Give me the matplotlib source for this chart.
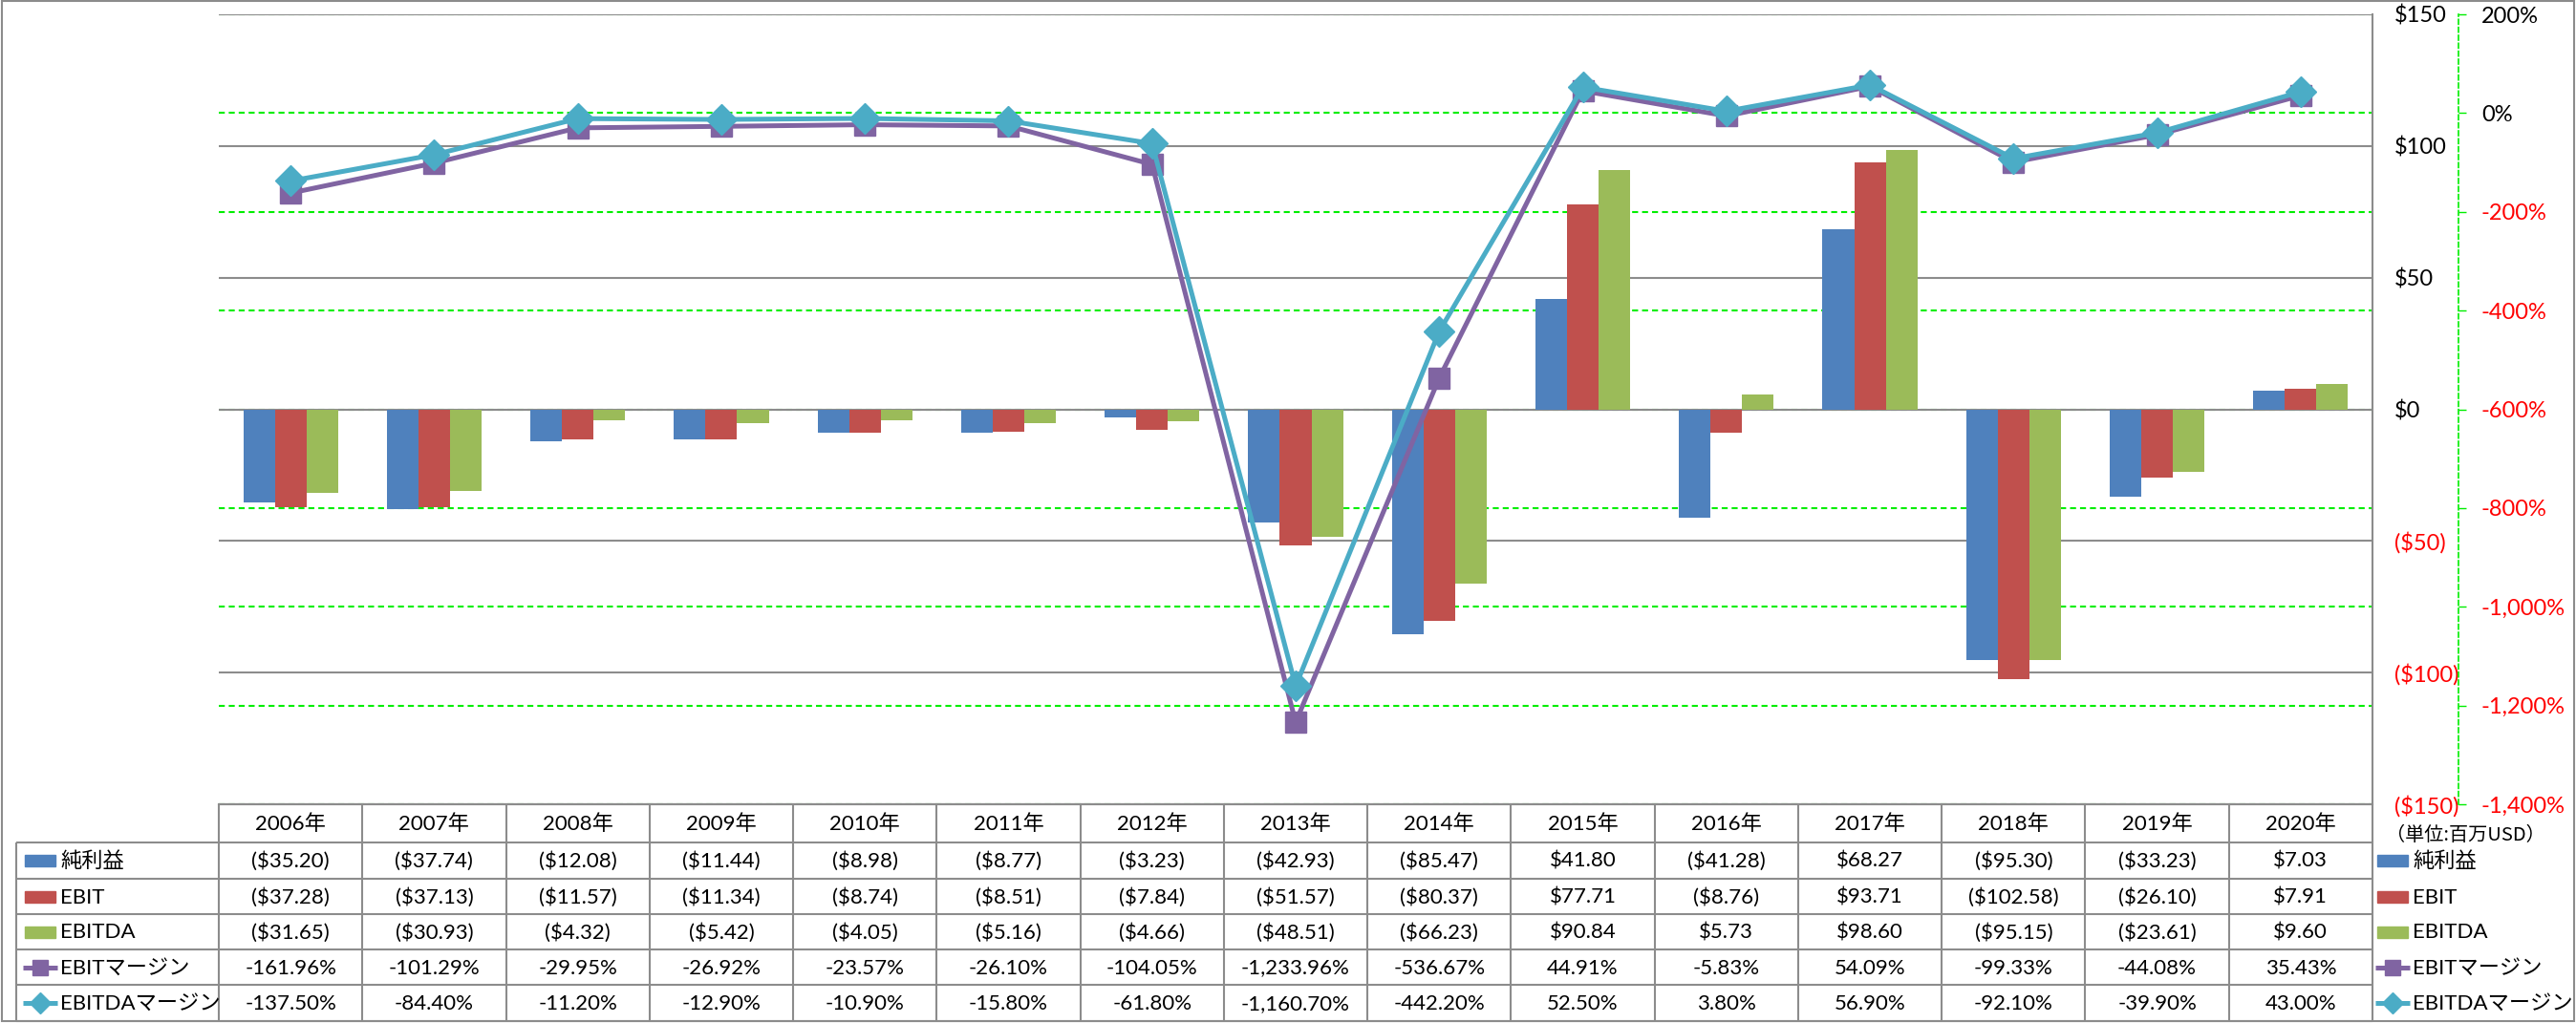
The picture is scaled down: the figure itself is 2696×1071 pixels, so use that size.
import matplotlib
matplotlib.use('Agg')
import matplotlib.pyplot as plt
from matplotlib.patches import Rectangle
import numpy as np

plt.rcParams['font.family'] = ['Lato', 'Noto Sans CJK JP']

years = ['2006年', '2007年', '2008年', '2009年', '2010年', '2011年', '2012年', '2013年',
         '2014年', '2015年', '2016年', '2017年', '2018年', '2019年', '2020年']
net_income = [-35.20, -37.74, -12.08, -11.44, -8.98, -8.77, -3.23, -42.93,
              -85.47, 41.80, -41.28, 68.27, -95.30, -33.23, 7.03]
ebit = [-37.28, -37.13, -11.57, -11.34, -8.74, -8.51, -7.84, -51.57,
        -80.37, 77.71, -8.76, 93.71, -102.58, -26.10, 7.91]
ebitda = [-31.65, -30.93, -4.32, -5.42, -4.05, -5.16, -4.66, -48.51,
          -66.23, 90.84, 5.73, 98.60, -95.15, -23.61, 9.60]
ebit_margin = [-161.96, -101.29, -29.95, -26.92, -23.57, -26.10, -104.05, -1233.96,
               -536.67, 44.91, -5.83, 54.09, -99.33, -44.08, 35.43]
ebitda_margin = [-137.50, -84.40, -11.20, -12.90, -10.90, -15.80, -61.80, -1160.70,
                 -442.20, 52.50, 3.80, 56.90, -92.10, -39.90, 43.00]
series_names = ['純利益', 'EBIT', 'EBITDA', 'EBITマージン', 'EBITDAマージン']
unit_note = '（単位:百万USD）'

money_ticks = [-150, -100, -50, 0, 50, 100, 150]
pct_ticks = [-1400, -1200, -1000, -800, -600, -400, -200, 0, 200]

c_blue, c_red, c_green = '#4F81BD', '#C0504D', '#9BBB59'
c_purple, c_cyan = '#8064A2', '#4BACC6'
grid_gray = '#8c8c8c'
green = '#00EE00'
fs = 16
fs_tick = 17


def fmt_money(v):
    return f'(${abs(v):.2f})' if v < 0 else f'${v:.2f}'


def fmt_money_tick(v):
    return f'(${abs(v):,})' if v < 0 else f'${v:,}'


W, H = 2696, 1071
fig = plt.figure(figsize=(W / 100, H / 100), dpi=100)

# plot area in pixels
left, right, top, bottom = 229, 2483, 15, 842
rect = [left / W, 1 - bottom / H, (right - left) / W, (bottom - top) / H]

# pixel canvas for the data table and frame
axt = fig.add_axes([0, 0, 1, 1])
axt.set_xlim(0, W)
axt.set_ylim(H, 0)
axt.axis('off')

# green gridlines for the secondary axis (kept behind the bars)
axg = fig.add_axes(rect)
axg.set_ylim(-1400, 200)
axg.set_yticks(pct_ticks)
axg.set_xticks([])
axg.grid(axis='y', color=green, lw=1.5, ls=(0, (3, 2)))
axg.tick_params(length=0, labelleft=False)
for s in axg.spines.values():
    s.set_visible(False)
axg.patch.set_visible(False)

# bars on the primary axis
ax = fig.add_axes(rect)
ax.patch.set_visible(False)
x = np.arange(len(years))
bw = 0.22
ax.bar(x - bw, net_income, bw, color=c_blue, zorder=3)
ax.bar(x, ebit, bw, color=c_red, zorder=3)
ax.bar(x + bw, ebitda, bw, color=c_green, zorder=3)
ax.set_xlim(-0.5, len(years) - 0.5)
ax.set_ylim(-150, 150)
ax.set_xticks([])
ax.grid(axis='y', color=grid_gray, lw=1.5)
ax.set_axisbelow(True)

# margin lines on the secondary axis
ax2 = ax.twinx()
ax2.patch.set_visible(False)
ax2.plot(x, ebit_margin, color=c_purple, lw=3.6, marker='s', ms=16, mec=c_purple, zorder=3)
ax2.plot(x, ebitda_margin, color=c_cyan, lw=3.6, marker='D', ms=16, mec=c_cyan, zorder=4)
ax2.set_ylim(-1400, 200)
ax2.set_yticks(pct_ticks, labels=[f'{v:,}%' for v in pct_ticks])
for s in ['left', 'top', 'bottom']:
    ax2.spines[s].set_visible(False)
ax2.spines['right'].set_position(('outward', 65))
ax2.spines['right'].set_color(green)
ax2.spines['right'].set_linestyle((0, (3, 2)))
ax2.spines['right'].set_linewidth(1.2)
ax2.tick_params(axis='y', direction='out', length=6, width=1, color=green, pad=11,
                labelsize=fs_tick)
for tick, v in zip(ax2.yaxis.get_major_ticks(), pct_ticks):
    tick.label2.set_color('red' if v < 0 else 'black')

# primary labels sit on the right as well (twinx moves them left)
ax.yaxis.tick_right()
ax.set_yticks(money_ticks, labels=[fmt_money_tick(v) for v in money_ticks])
ax.tick_params(axis='y', length=0, pad=16.5, labelsize=fs_tick)
ax.spines['left'].set_visible(False)
ax.spines['top'].set_visible(False)
ax.spines['right'].set_color(grid_gray)
ax.spines['bottom'].set_color(grid_gray)
ax.spines['right'].set_linewidth(1.5)
ax.spines['bottom'].set_linewidth(1.5)
for tick, v in zip(ax.yaxis.get_major_ticks(), money_ticks):
    tick.label1.set_color('red' if v < 0 else 'black')
    tick.label2.set_color('red' if v < 0 else 'black')

# data table
rows_y = [842, 882, 920, 957, 994, 1031, 1069]
tbl_left = 17
cw = (right - left) / len(years)
lw_t = 1.5
axt.hlines(rows_y[0], left, right, color=grid_gray, lw=lw_t)
axt.hlines(rows_y[1:], tbl_left, right, color=grid_gray, lw=lw_t)
axt.vlines([left + i * cw for i in range(len(years) + 1)], rows_y[0], rows_y[-1],
           color=grid_gray, lw=lw_t)
axt.vlines(tbl_left, rows_y[1], rows_y[-1], color=grid_gray, lw=lw_t)
axt.add_patch(Rectangle((2, 1), W - 4, H - 3, fill=False, ec=grid_gray, lw=lw_t))

for i, yr in enumerate(years):
    axt.text(left + (i + 0.5) * cw, (rows_y[0] + rows_y[1]) / 2 + 1, yr,
             ha='center', va='center', fontsize=fs)

row_text = [[fmt_money(v) for v in net_income],
            [fmt_money(v) for v in ebit],
            [fmt_money(v) for v in ebitda],
            [f'{v:,.2f}%' for v in ebit_margin],
            [f'{v:,.2f}%' for v in ebitda_margin]]
for r, vals in enumerate(row_text):
    yc = (rows_y[r + 1] + rows_y[r + 2]) / 2 + 1
    for i, t in enumerate(vals):
        axt.text(left + (i + 0.5) * cw, yc, t, ha='center', va='center', fontsize=fs)

# legend keys: left column and right side
key_styles = [('bar', c_blue, None), ('bar', c_red, None), ('bar', c_green, None),
              ('line', c_purple, 's'), ('line', c_cyan, 'D')]
for kx in [26, 2488]:
    for r, (kind, col, mk) in enumerate(key_styles):
        yc = (rows_y[r + 1] + rows_y[r + 2]) / 2
        if kind == 'bar':
            axt.add_patch(Rectangle((kx, yc - 6), 32, 12, color=col))
        else:
            axt.plot([kx - 2, kx + 34], [yc, yc], color=col, lw=3.6, solid_capstyle='butt')
            axt.plot([kx + 16], [yc], marker=mk, color=col, ms=11)
        axt.text(kx + 37, yc + 1, series_names[r], ha='left', va='center', fontsize=fs)

axt.text(2497, 874, unit_note, ha='left', va='center', fontsize=14.5,
         family=['Noto Sans CJK JP'])

fig.savefig('out.png', dpi=100)
